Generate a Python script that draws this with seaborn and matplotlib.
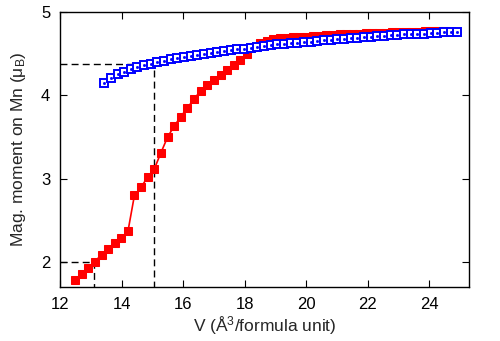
import matplotlib
matplotlib.use("Agg")
import pandas as pd
import matplotlib.pyplot as plt
import seaborn as sns

# Магнитный момент Mn в зависимости от объёма
v_red = [12.48, 12.70, 12.91, 13.13, 13.35, 13.56, 13.78, 13.99, 14.21, 14.42,
         14.64, 14.85, 15.07, 15.28, 15.50, 15.71, 15.93, 16.14, 16.36, 16.57,
         16.79, 17.00, 17.22, 17.43, 17.65, 17.86, 18.08, 18.29, 18.51, 18.72,
         18.94, 19.15, 19.37, 19.58, 19.80, 20.01, 20.23, 20.44, 20.66, 20.87,
         21.09, 21.30, 21.52, 21.73, 21.95, 22.16, 22.38, 22.59, 22.81, 23.02,
         23.24, 23.45, 23.67, 23.88, 24.10, 24.31, 24.53]
m_red = [1.78, 1.86, 1.935, 2.005, 2.09, 2.16, 2.23, 2.29, 2.37, 2.80,
         2.90, 3.02, 3.12, 3.31, 3.50, 3.63, 3.745, 3.85, 3.955, 4.055,
         4.12, 4.185, 4.24, 4.305, 4.36, 4.425, 4.50, 4.585, 4.63, 4.655,
         4.68, 4.685, 4.69, 4.695, 4.70, 4.705, 4.71, 4.715, 4.72, 4.725,
         4.73, 4.73, 4.735, 4.74, 4.745, 4.745, 4.75, 4.75, 4.755, 4.76,
         4.76, 4.765, 4.765, 4.77, 4.77, 4.775, 4.775]

v_blue = [13.43, 13.65, 13.87, 14.08, 14.30, 14.52, 14.74, 14.95, 15.17, 15.39,
          15.61, 15.82, 16.04, 16.26, 16.47, 16.69, 16.91, 17.12, 17.34, 17.56,
          17.77, 17.99, 18.21, 18.42, 18.64, 18.86, 19.07, 19.29, 19.51, 19.72,
          19.94, 20.16, 20.37, 20.59, 20.81, 21.02, 21.24, 21.46, 21.67, 21.89,
          22.11, 22.32, 22.54, 22.76, 22.97, 23.19, 23.41, 23.62, 23.84, 24.06,
          24.27, 24.49, 24.71, 24.92]
m_blue = [4.15, 4.21, 4.25, 4.28, 4.31, 4.335, 4.36, 4.38, 4.395, 4.41,
          4.43, 4.445, 4.455, 4.47, 4.485, 4.495, 4.51, 4.52, 4.53, 4.54,
          4.55, 4.56, 4.57, 4.58, 4.59, 4.60, 4.61, 4.615, 4.625, 4.63,
          4.64, 4.645, 4.655, 4.66, 4.665, 4.675, 4.68, 4.685, 4.69, 4.70,
          4.705, 4.71, 4.715, 4.72, 4.725, 4.73, 4.735, 4.74, 4.74, 4.745,
          4.75, 4.755, 4.755, 4.76]

# Вспомогательные пунктирные линии
v_guide = [13.1, 15.05]
m_guide = [2.0, 4.37]

df_red = pd.DataFrame({"V": v_red, "M": m_red})
df_blue = pd.DataFrame({"V": v_blue, "M": m_blue})

sns.set_style("ticks")
plt.rcParams["font.family"] = ["Liberation Sans", "DejaVu Sans"]
plt.rcParams["mathtext.default"] = "regular"

fig = plt.figure(figsize=(5, 3.41), dpi=100)
ax = fig.add_axes([0.12, 0.158, 0.818, 0.807])

x0, y0 = 12, 1.7
for vg, mg in zip(v_guide, m_guide):
    ax.plot([x0, vg, vg], [mg, mg, y0], color="black", linestyle="--",
            linewidth=1, dashes=(5, 3))

sns.lineplot(data=df_red, x="V", y="M", sort=False, color="red", linewidth=1.2,
             marker="s", markersize=5.2, markeredgecolor="red", markerfacecolor="red",
             ax=ax, zorder=3)
sns.lineplot(data=df_blue, x="V", y="M", sort=False, color="blue", linewidth=1.2,
             marker="s", markersize=5.2, markeredgecolor="blue", markerfacecolor="white",
             markeredgewidth=1.4, ax=ax, zorder=4)
# точка в центре открытых квадратов
ax.plot(df_blue["V"], df_blue["M"], linestyle="none", marker="s", markersize=1,
        color="blue", zorder=5)

ax.set_xlim(12, 25.3)
ax.set_ylim(1.7, 5)
ax.set_xticks([12, 14, 16, 18, 20, 22, 24])
ax.set_yticks([2, 3, 4, 5])
ax.tick_params(direction="in", top=True, right=True, length=5, width=0.8,
               labelsize=12, pad=7, colors="black")
for s in ax.spines.values():
    s.set_linewidth(1)
    s.set_color("black")

ax.set_xlabel("V (Å$^{3}$/formula unit)", fontsize=12.5, labelpad=2)
ax.set_ylabel("Mag. moment on Mn (μ$_{B}$)", fontsize=12.5, labelpad=9)

fig.savefig("out.png", dpi=100)
